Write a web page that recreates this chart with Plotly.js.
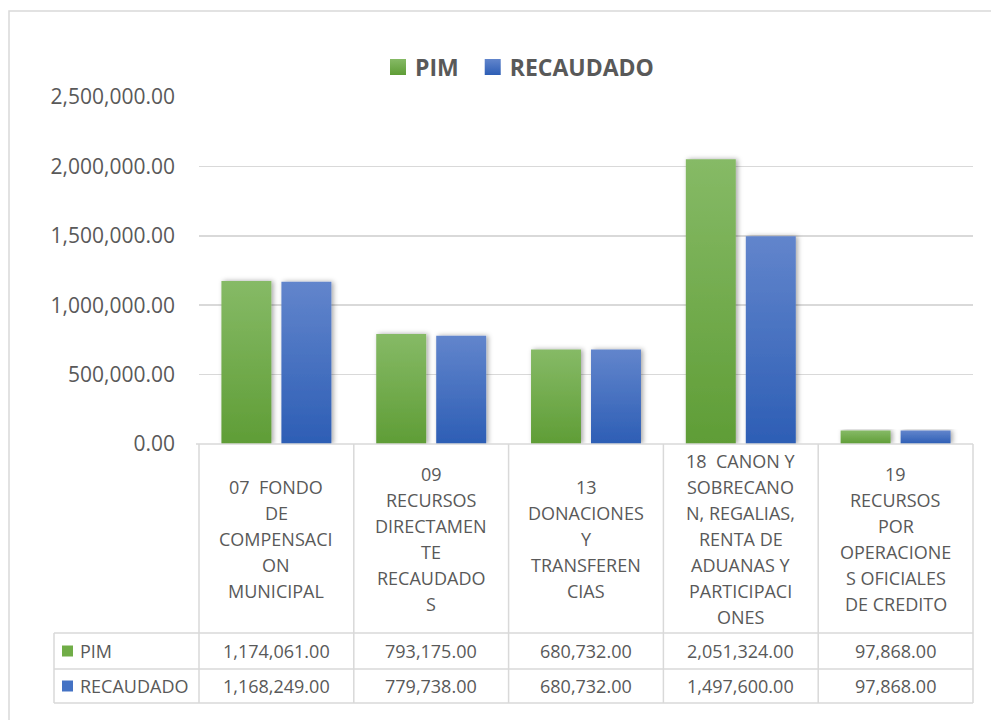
<!DOCTYPE html>
<html>
<head>
<meta charset="utf-8">
<script src="https://cdn.plot.ly/plotly-3.0.1.min.js"></script>
<style>
html,body{margin:0;padding:0;background:#fff;}
#chart{width:991px;height:720px;}
</style>
</head>
<body>
<div id="chart"></div>
<script>
// ---- data ----
const categories = ["07 FONDO DE COMPENSACION MUNICIPAL", "09 RECURSOS DIRECTAMENTE RECAUDADOS", "13 DONACIONES Y TRANSFERENCIAS", "18 CANON Y SOBRECANON, REGALIAS, RENTA DE ADUANAS Y PARTICIPACIONES", "19 RECURSOS POR OPERACIONES OFICIALES DE CREDITO"];
const categoryLines = [
  ["07  FONDO", "DE", "COMPENSACI", "ON", "MUNICIPAL"],
  ["09", "RECURSOS", "DIRECTAMEN", "TE", "RECAUDADO", "S"],
  ["13", "DONACIONES", "Y", "TRANSFEREN", "CIAS"],
  ["18  CANON Y", "SOBRECANO", "N, REGALIAS,", "RENTA DE", "ADUANAS Y", "PARTICIPACI", "ONES"],
  ["19", "RECURSOS", "POR", "OPERACIONE", "S OFICIALES", "DE CREDITO"]
];
const seriesNames = ["PIM", "RECAUDADO"];
const pim = [1174061, 793175, 680732, 2051324, 97868];
const recaudado = [1168249, 779738, 680732, 1497600, 97868];
const yTicks = [0, 500000, 1000000, 1500000, 2000000, 2500000];

// ---- layout helpers ----
const L = 199, R = 973, T = 97, B = 444;
const W = R - L, H = B - T;
const py = v => (B - v) / H;      // pixel y -> paper y
const px = v => (v - L) / W;      // pixel x -> paper x
const GRAY = '#d9d9d9';
const TXT = '#595959';
const FONT = 'Open Sans, Noto Sans, sans-serif';
const colors = ['#70ad47', '#4472c4'];

const fmt = v => v.toLocaleString('en-US', {minimumFractionDigits: 2, maximumFractionDigits: 2});

const traces = [
  {type: 'bar', name: seriesNames[0] + '\u00a0', x: categories, y: pim, marker: {color: colors[0]}, hoverinfo: 'skip'},
  {type: 'bar', name: seriesNames[1], x: categories, y: recaudado, marker: {color: colors[1]}, hoverinfo: 'skip'}
];

const shapes = [];
const annotations = [];
const line = (x0, y0, x1, y1) => shapes.push({type: 'line', xref: 'paper', yref: 'paper', x0: px(x0), y0: py(y0), x1: px(x1), y1: py(y1), line: {color: GRAY, width: 1.5}, layer: 'above'});

// outer chart border
shapes.push({type: 'rect', xref: 'paper', yref: 'paper', x0: px(9), y0: py(11), x1: px(995), y1: py(730), line: {color: GRAY, width: 1.5}, fillcolor: 'rgba(0,0,0,0)'});

// table grid
const rowLines = [633, 669, 703];
line(196, B, R, B);
rowLines.forEach(y => line(54, y, R, y));
const n = categories.length;
for (let i = 0; i <= n; i++) {
  const x = L + W * i / n;
  line(x, B, x, 703);
}
line(54, 633, 54, 703);

// category labels (table header)
categoryLines.forEach((lines, i) => {
  const m = lines.length;
  lines.forEach((t, j) => {
    annotations.push({xref: 'x', yref: 'paper', x: categories[i], y: py(539 + (j - (m - 1) / 2) * 26),
      text: t, showarrow: false, xanchor: 'center', yanchor: 'middle',
      font: {family: FONT, size: 18, color: TXT}});
  });
});

// table rows
const rowData = [pim, recaudado];
const rowCenters = [651, 686];
rowData.forEach((arr, r) => {
  arr.forEach((v, i) => {
    annotations.push({xref: 'x', yref: 'paper', x: categories[i], y: py(rowCenters[r]),
      text: fmt(v), showarrow: false, xanchor: 'center', yanchor: 'middle',
      font: {family: FONT, size: 18, color: TXT}});
  });
  shapes.push({type: 'rect', xref: 'paper', yref: 'paper', x0: px(62), x1: px(73), y0: py(rowCenters[r] - 5.5), y1: py(rowCenters[r] + 5.5), line: {width: 0}, fillcolor: colors[r]});
  annotations.push({xref: 'paper', yref: 'paper', x: px(78), y: py(rowCenters[r]), text: seriesNames[r], showarrow: false,
    xanchor: 'left', yanchor: 'middle', font: {family: FONT, size: 18, color: TXT}});
});

const layout = {
  width: 991, height: 720,
  margin: {l: L, r: 991 - R, t: T, b: 720 - B, pad: 0},
  paper_bgcolor: '#fff', plot_bgcolor: '#fff',
  barmode: 'group', bargap: 0.225, bargroupgap: 0.167,
  showlegend: true,
  legend: {orientation: 'h', x: px(375), xanchor: 'left', y: py(67), yanchor: 'middle',
    font: {family: FONT, size: 23, color: TXT, weight: 'bold'}, itemsizing: 'constant', traceorder: 'normal'},
  xaxis: {showticklabels: false, showgrid: false, zeroline: false, showline: false, ticks: '', fixedrange: true},
  yaxis: {range: [0, 2500000], tickvals: yTicks, tickformat: ',.2f', showgrid: true, gridcolor: GRAY, gridwidth: 1.5,
    zeroline: false, showline: false, ticks: '', ticklabelstandoff: 23,
    tickfont: {family: FONT, size: 21, color: TXT}, fixedrange: true},
  shapes: shapes,
  annotations: annotations
};

Plotly.newPlot('chart', traces, layout, {staticPlot: true, displayModeBar: false}).then(gd => {
  const ns = 'http://www.w3.org/2000/svg';
  const svg = gd.querySelector('svg.main-svg');
  let defs = svg.querySelector('defs');
  const grads = [['gG', '#86ba66', '#5f9d36'], ['gB', '#6285cc', '#2d5eb5']];
  grads.forEach(([id, c1, c2]) => {
    const g = document.createElementNS(ns, 'linearGradient');
    g.setAttribute('id', id); g.setAttribute('x1', '0'); g.setAttribute('y1', '0'); g.setAttribute('x2', '0'); g.setAttribute('y2', '1');
    [[0, c1], [1, c2]].forEach(([o, c]) => {
      const s = document.createElementNS(ns, 'stop');
      s.setAttribute('offset', o); s.setAttribute('stop-color', c);
      g.appendChild(s);
    });
    defs.appendChild(g);
  });
  const f = document.createElementNS(ns, 'filter');
  f.setAttribute('id', 'shd'); f.setAttribute('x', '-30%'); f.setAttribute('y', '-10%'); f.setAttribute('width', '160%'); f.setAttribute('height', '120%');
  const ds = document.createElementNS(ns, 'feDropShadow');
  ds.setAttribute('dx', '2'); ds.setAttribute('dy', '0'); ds.setAttribute('stdDeviation', '2.5');
  ds.setAttribute('flood-color', '#000'); ds.setAttribute('flood-opacity', '0.35');
  f.appendChild(ds); defs.appendChild(f);
  gd.querySelectorAll('.barlayer .trace.bars').forEach((tr, i) => {
    tr.querySelectorAll('path').forEach(p => {
      p.style.fill = 'url(#' + grads[i][0] + ')';
      p.setAttribute('filter', 'url(#shd)');
    });
  });
  gd.querySelectorAll('.legend .traces').forEach((tr, i) => {
    tr.querySelectorAll('.legendpoints path').forEach(p => {
      p.style.fill = 'url(#' + grads[i][0] + ')';
      p.setAttribute('d', 'M11,8H-5V-8H11Z');
    });
  });
});
</script>
</body>
</html>
